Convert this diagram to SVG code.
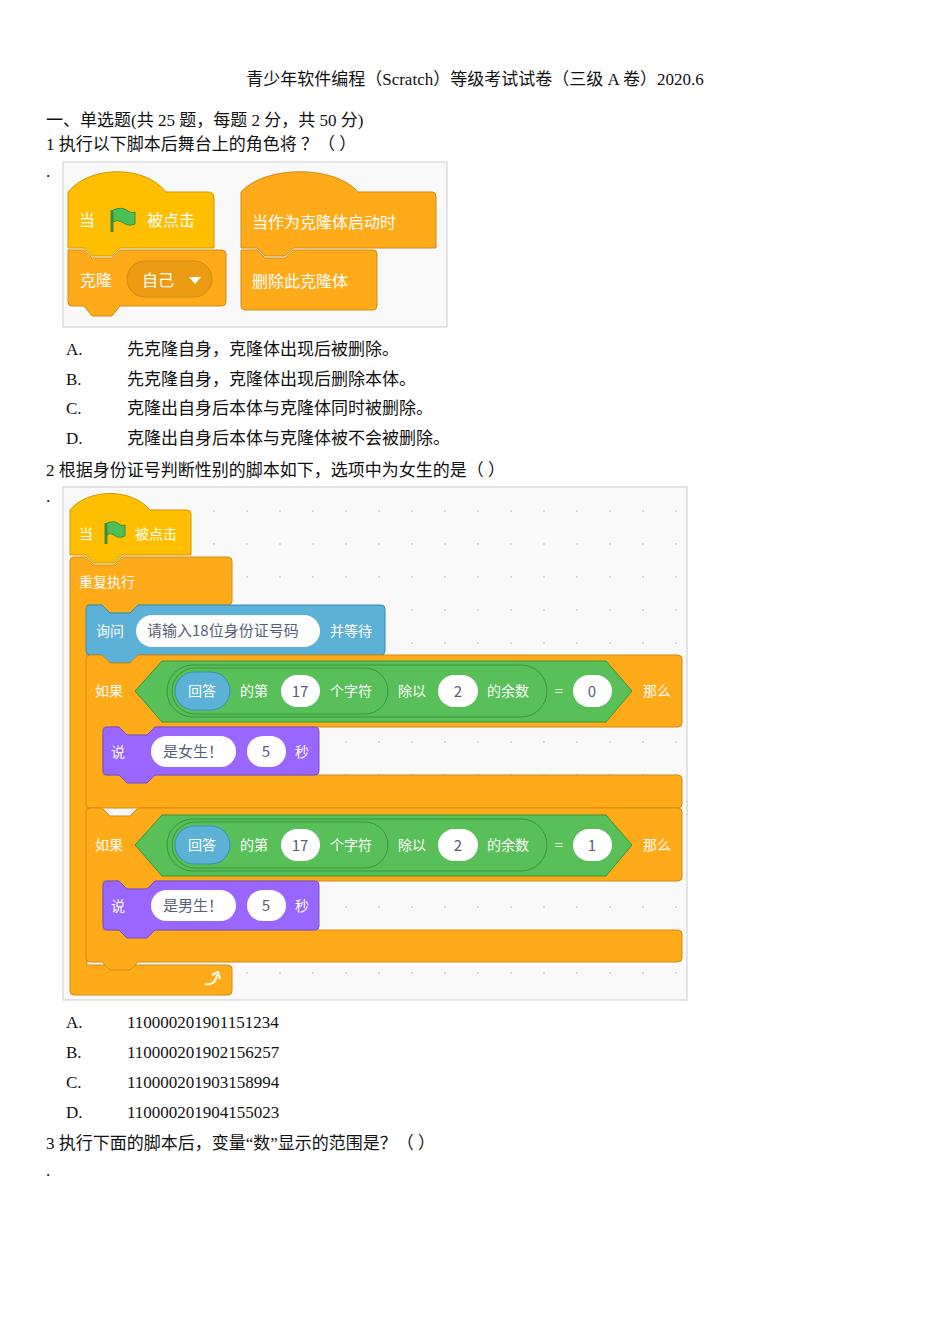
<svg xmlns="http://www.w3.org/2000/svg" width="950" height="1344" viewBox="0 0 950 1344">
<style>
.t{font-family:"Liberation Serif","Noto Sans CJK SC",serif;font-size:17px;fill:#111}
.b{font-family:"Noto Sans CJK SC","Liberation Sans",sans-serif;font-size:16px;fill:#fff}
.s{font-size:14px}
.d{font-family:"Noto Sans CJK SC","Liberation Sans",sans-serif;font-size:15px;fill:#575e75}
.yel{fill:#ffbf00;stroke:#cc9900;stroke-width:1}
.ora{fill:#ffab19;stroke:#cf8b17;stroke-width:1}
.blu{fill:#5cb1d6;stroke:#2e8eb8;stroke-width:1}
.pur{fill:#9966ff;stroke:#774dcb;stroke-width:1}
.grn{fill:#59c059;stroke:#389438;stroke-width:1}
.wo{fill:#fff}
</style>
<defs>
<pattern id="dots" x="0" y="0" width="33" height="33" patternUnits="userSpaceOnUse"><circle cx="16" cy="16" r="0.9" fill="#ccc"/></pattern>
</defs>
<rect width="950" height="1344" fill="#fff"/>
<text class="t" x="475" y="85" text-anchor="middle" font-size="18">青少年软件编程（Scratch）等级考试试卷（三级 A 卷）2020.6</text>
<text class="t" x="46" y="126" font-size="15">一、单选题(共 25 题，每题 2 分，共 50 分)</text>
<text class="t" x="46" y="150">1 执行以下脚本后舞台上的角色将 ？（  ）</text>
<text class="t" x="46" y="177">.</text>

<g id="img1">
<rect x="63" y="162" width="384" height="165" fill="#f9f9f9" stroke="#ccc"/>
<g id="hat1">
<path class="yel" d="M68 192 C90 165 145 165 166 192 L208 192 Q214 192 214 198 L214 248 L120 248 L112 256 L92 256 L84 248 L68 248 Z"/>
<text class="b" x="79" y="226">当</text>
<path d="M112 210 L112 232" stroke="#3d8b3d" stroke-width="3"/>
<path d="M113 210 Q122 206 128 211 Q132 214 135 212 L135 224 Q128 227 122 222 Q117 219 113 222 Z" fill="#4cbf56" stroke="#3d8b3d"/>
<text class="b" x="147" y="226">被点击</text>
</g>
<g id="clone">
<path class="ora" d="M68 250 L84 250 L92 258 L112 258 L120 250 L222 250 Q226 250 226 254 L226 302 Q226 306 222 306 L120 306 L112 316 L92 316 L84 306 L72 306 Q68 306 68 302 Z"/>
<text class="b" x="80" y="286">克隆</text>
<rect x="127" y="261" width="85" height="36" rx="18" fill="#ec9c13" stroke="#cf8b17"/>
<text class="b" x="142" y="286">自己</text>
<path d="M189 277 L201 277 L195 284 Z" fill="#fff"/>
</g>
<g id="hat2">
<path class="ora" d="M241 192 C265 165 335 165 358 192 L432 192 Q436 192 436 196 L436 248 L293 248 L285 256 L265 256 L257 248 L241 248 Z"/>
<text class="b" x="252" y="228">当作为克隆体启动时</text>
</g>
<g id="del">
<path class="ora" d="M241 250 L257 250 L265 258 L285 258 L293 250 L373 250 Q377 250 377 254 L377 306 Q377 310 373 310 L245 310 Q241 310 241 306 Z"/>
<text class="b" x="252" y="287">删除此克隆体</text>
</g>
</g>

<text class="t" x="66" y="355">A.</text><text class="t" x="127" y="355">先克隆自身，克隆体出现后被删除。</text>
<text class="t" x="66" y="385">B.</text><text class="t" x="127" y="385">先克隆自身，克隆体出现后删除本体。</text>
<text class="t" x="66" y="414">C.</text><text class="t" x="127" y="414">克隆出自身后本体与克隆体同时被删除。</text>
<text class="t" x="66" y="444">D.</text><text class="t" x="127" y="444">克隆出自身后本体与克隆体被不会被删除。</text>
<text class="t" x="46" y="476">2 根据身份证号判断性别的脚本如下，选项中为女生的是（  ）</text>
<text class="t" x="46" y="502">.</text>

<g id="img2">
<rect x="63" y="487" width="624" height="513" fill="#f9f9f9" stroke="#ccc"/>
<rect x="63" y="487" width="624" height="513" fill="url(#dots)"/>
<g id="forever">
<path class="ora" d="M74 557 L86 557 L94 565 L114 565 L122 557 L228 557 Q232 557 232 561 L232 601 Q232 605 228 605 L138 605 L130 613 L110 613 L102 605 L87 605 L87 965 L228 965 Q232 965 232 969 L232 991 Q232 995 228 995 L74 995 Q70 995 70 991 L70 561 Q70 557 74 557 Z"/>
<text class="b s" x="79" y="587">重复执行</text>
<path d="M205 984 Q215 986 217 975 M212 975 L218 972 L220 979" fill="none" stroke="#fff" stroke-width="2"/>
</g>
<g id="hat3">
<path class="yel" d="M70 510 C88 488 132 488 150 510 L187 510 Q191 510 191 514 L191 555 L122 555 L114 563 L94 563 L86 555 L70 555 Z"/>
<text class="b s" x="79" y="539">当</text>
<path d="M106 523 L106 544" stroke="#3d8b3d" stroke-width="3"/>
<path d="M107 523 Q114 520 119 524 Q122 527 125 525 L125 536 Q119 539 114 535 Q110 532 107 535 Z" fill="#4cbf56" stroke="#3d8b3d"/>
<text class="b s" x="135" y="539">被点击</text>
</g>
<g id="ask">
<path class="blu" d="M90 605 L102 605 L110 613 L130 613 L138 605 L381 605 Q385 605 385 609 L385 651 Q385 655 381 655 L138 655 L130 663 L110 663 L102 655 L90 655 Q86 655 86 651 L86 609 Q86 605 90 605 Z"/>
<text class="b s" x="96" y="636">询问</text>
<rect x="136" y="615" width="184" height="32" rx="16" class="wo"/>
<text class="d" x="147" y="636">请输入18位身份证号码</text>
<text class="b s" x="330" y="636">并等待</text>
</g>
<g id="if1">
<path class="ora" d="M90 655 L102 655 L110 663 L130 663 L138 655 L678 655 Q682 655 682 659 L682 723 Q682 727 678 727 L155 727 L147 735 L127 735 L119 727 L103 727 L103 775 L678 775 Q682 775 682 779 L682 804 Q682 808 678 808 L90 808 Q86 808 86 804 L86 659 Q86 655 90 655 Z"/>
<text class="b s" x="95" y="696">如果</text>
<path class="grn" d="M135 691 L162 661 L606 661 L632 691 L606 722 L162 722 Z"/>
<rect x="167" y="665" width="380" height="52" rx="26" class="grn"/>
<rect x="172" y="668" width="216" height="46" rx="23" class="grn"/>
<rect x="175" y="672" width="55" height="38" rx="19" class="blu"/>
<text class="b s" x="188" y="696">回答</text>
<text class="b s" x="240" y="696">的第</text>
<rect x="281" y="675" width="39" height="32" rx="16" class="wo"/><text class="d" x="300" y="697" text-anchor="middle">17</text>
<text class="b s" x="330" y="696">个字符</text>
<text class="b s" x="398" y="696">除以</text>
<rect x="438" y="675" width="40" height="32" rx="16" class="wo"/><text class="d" x="458" y="697" text-anchor="middle">2</text>
<text class="b s" x="487" y="696">的余数</text>
<text class="b s" x="555" y="696">=</text>
<rect x="573" y="675" width="39" height="32" rx="16" class="wo"/><text class="d" x="592" y="697" text-anchor="middle">0</text>
<text class="b s" x="643" y="696">那么</text>
</g>
<g id="say1">
<path class="pur" d="M107 727 L119 727 L127 735 L147 735 L155 727 L315 727 Q319 727 319 731 L319 771 Q319 775 315 775 L155 775 L147 783 L127 783 L119 775 L107 775 Q103 775 103 771 L103 731 Q103 727 107 727 Z"/>
<text class="b s" x="111" y="757">说</text>
<rect x="151" y="736" width="85" height="31" rx="15.5" class="wo"/><text class="d" x="163" y="757">是女生！</text>
<rect x="247" y="736" width="39" height="31" rx="15.5" class="wo"/><text class="d" x="266" y="757" text-anchor="middle">5</text>
<text class="b s" x="295" y="757">秒</text>
</g>
<g id="if2">
<path class="ora" d="M90 808 L102 808 L110 816 L130 816 L138 808 L678 808 Q682 808 682 812 L682 877 Q682 881 678 881 L155 881 L147 889 L127 889 L119 881 L103 881 L103 930 L678 930 Q682 930 682 934 L682 958 Q682 962 678 962 L138 962 L130 970 L110 970 L102 962 L90 962 Q86 962 86 958 L86 812 Q86 808 90 808 Z"/>
<text class="b s" x="95" y="850">如果</text>
<path class="grn" d="M135 845 L162 815 L606 815 L632 845 L606 876 L162 876 Z"/>
<rect x="167" y="819" width="380" height="52" rx="26" class="grn"/>
<rect x="172" y="822" width="216" height="46" rx="23" class="grn"/>
<rect x="175" y="826" width="55" height="38" rx="19" class="blu"/>
<text class="b s" x="188" y="850">回答</text>
<text class="b s" x="240" y="850">的第</text>
<rect x="281" y="829" width="39" height="32" rx="16" class="wo"/><text class="d" x="300" y="851" text-anchor="middle">17</text>
<text class="b s" x="330" y="850">个字符</text>
<text class="b s" x="398" y="850">除以</text>
<rect x="438" y="829" width="40" height="32" rx="16" class="wo"/><text class="d" x="458" y="851" text-anchor="middle">2</text>
<text class="b s" x="487" y="850">的余数</text>
<text class="b s" x="555" y="850">=</text>
<rect x="573" y="829" width="39" height="32" rx="16" class="wo"/><text class="d" x="592" y="851" text-anchor="middle">1</text>
<text class="b s" x="643" y="850">那么</text>
</g>
<g id="say2">
<path class="pur" d="M107 881 L119 881 L127 889 L147 889 L155 881 L315 881 Q319 881 319 885 L319 926 Q319 930 315 930 L155 930 L147 938 L127 938 L119 930 L107 930 Q103 930 103 926 L103 885 Q103 881 107 881 Z"/>
<text class="b s" x="111" y="911">说</text>
<rect x="151" y="890" width="85" height="31" rx="15.5" class="wo"/><text class="d" x="163" y="911">是男生！</text>
<rect x="247" y="890" width="39" height="31" rx="15.5" class="wo"/><text class="d" x="266" y="911" text-anchor="middle">5</text>
<text class="b s" x="295" y="911">秒</text>
</g>
</g>

<text class="t" x="66" y="1028">A.</text><text class="t" x="127" y="1028">110000201901151234</text>
<text class="t" x="66" y="1058">B.</text><text class="t" x="127" y="1058">110000201902156257</text>
<text class="t" x="66" y="1088">C.</text><text class="t" x="127" y="1088">110000201903158994</text>
<text class="t" x="66" y="1118">D.</text><text class="t" x="127" y="1118">110000201904155023</text>
<text class="t" x="46" y="1149">3 执行下面的脚本后，变量“数”显示的范围是？（  ）</text>
<text class="t" x="46" y="1176">.</text>
</svg>
